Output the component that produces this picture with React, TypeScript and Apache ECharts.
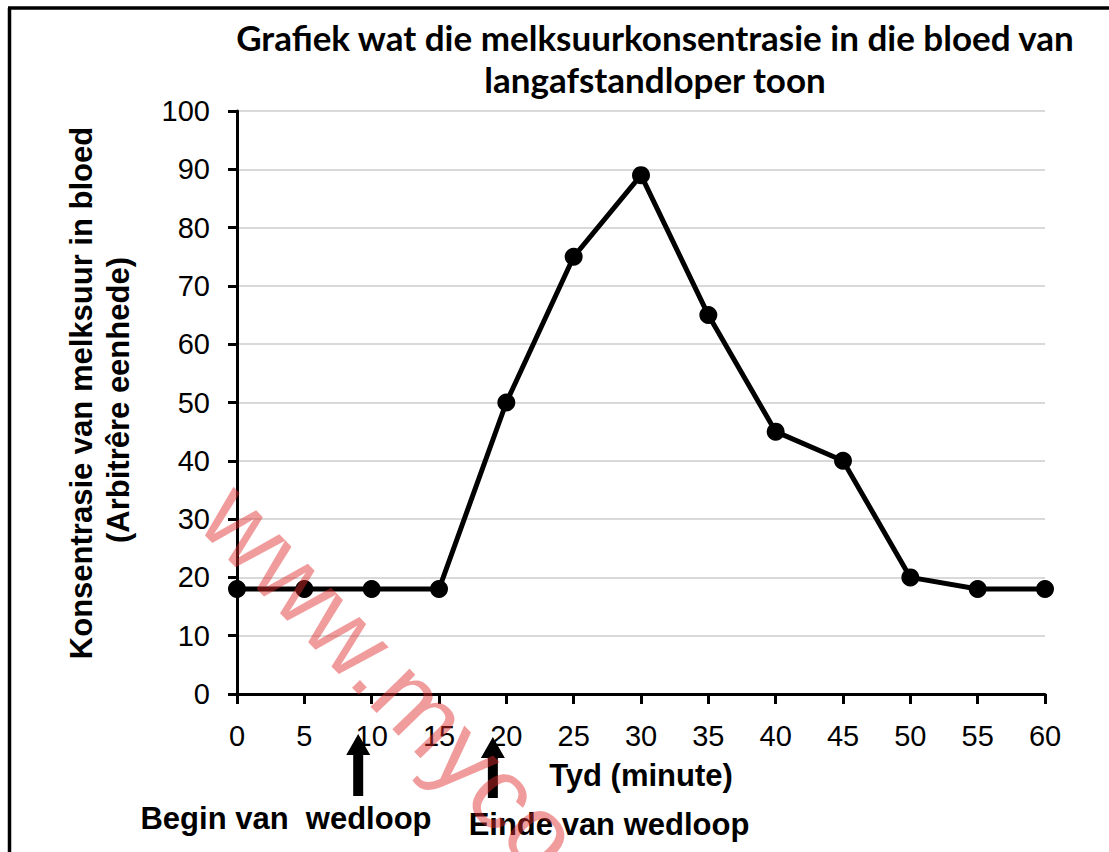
import React, { useEffect, useRef } from "react";
import * as echarts from "echarts";

const minutes = [0, 5, 10, 15, 20, 25, 30, 35, 40, 45, 50, 55, 60];
const lactate = [18, 18, 18, 18, 50, 75, 89, 65, 45, 40, 20, 18, 18];
const titleLines = [
  "Grafiek wat die melksuurkonsentrasie in die bloed van",
  "langafstandloper toon",
];
const yTitleLines = ["Konsentrasie van melksuur in bloed", "(Arbitrêre eenhede)"];
const xTitle = "Tyd (minute)";
const arrowMinutes = [9, 19];
const arrowLabels = ["Begin van  wedloop", "Einde van wedloop"];
const watermark = "www.myco";

const ARIAL = "'Liberation Sans', Arial, sans-serif";

export default function App() {
  const ref = useRef<HTMLDivElement>(null);
  useEffect(() => {
    if (!ref.current) return;
    const chart = echarts.init(ref.current, undefined, { renderer: "svg" });
    const data = minutes.map((m, i) => [m, lactate[i]]);
    chart.setOption({
      animation: false,
      backgroundColor: "#ffffff",
      title: {
        text: titleLines.join("\n"),
        left: 655,
        top: 16,
        padding: 0,
        textAlign: "center",
        textStyle: {
          fontFamily: "Lato, 'Open Sans', sans-serif",
          fontWeight: "bold",
          fontSize: 35,
          lineHeight: 42,
          color: "#000",
        },
      },
      grid: { left: 237, right: 64, top: 111, bottom: 158, containLabel: false },
      xAxis: {
        type: "value",
        min: 0,
        max: 60,
        interval: 5,
        name: xTitle,
        nameLocation: "middle",
        nameGap: 66,
        nameTextStyle: { fontFamily: ARIAL, fontWeight: "bold", fontSize: 31, color: "#000" },
        axisLine: { show: true, onZero: false, lineStyle: { color: "#000", width: 3 } },
        axisTick: { show: true, length: 10, lineStyle: { color: "#000", width: 3 } },
        axisLabel: { fontFamily: ARIAL, fontSize: 29, color: "#000", margin: 27 },
        splitLine: { show: false },
      },
      yAxis: {
        type: "value",
        min: 0,
        max: 100,
        interval: 10,
        axisLine: { show: true, lineStyle: { color: "#000", width: 3 } },
        axisTick: { show: true, length: 9, lineStyle: { color: "#000", width: 3 } },
        axisLabel: { fontFamily: ARIAL, fontSize: 29, color: "#000", margin: 27 },
        splitLine: { show: true, lineStyle: { color: "#d9d9d9", width: 2 } },
      },
      series: [
        {
          type: "line",
          data,
          clip: false,
          symbol: "circle",
          symbolSize: 18,
          itemStyle: { color: "#000" },
          lineStyle: { color: "#000", width: 5 },
          z: 5,
        },
      ],
    });

    const arrowEls: any[] = [];
    arrowMinutes.forEach((m, i) => {
      const px = chart.convertToPixel({ xAxisIndex: 0 }, m) as number;
      const tipY = i === 0 ? 734 : 737;
      const baseY = tipY + 21;
      const botY = i === 0 ? 796 : 798;
      arrowEls.push({
        type: "polygon",
        id: "arrow" + i,
        z: 50,
        shape: {
          points: [
            [px, tipY],
            [px + 12, baseY],
            [px + 5, baseY],
            [px + 5, botY],
            [px - 5, botY],
            [px - 5, baseY],
            [px - 12, baseY],
          ],
        },
        style: { fill: "#000" },
      });
    });

    chart.setOption({
      graphic: {
        elements: [
          {
            type: "line",
            id: "frameTop",
            shape: { x1: 8, y1: 8, x2: 1109, y2: 8 },
            style: { stroke: "#000", lineWidth: 3.5 },
          },
          {
            type: "line",
            id: "frameLeft",
            shape: { x1: 9.5, y1: 8, x2: 9.5, y2: 852 },
            style: { stroke: "#000", lineWidth: 3.5 },
          },
          {
            type: "text",
            id: "ytitle1",
            x: 81,
            y: 393,
            rotation: Math.PI / 2,
            style: {
              text: yTitleLines[0],
              fontFamily: ARIAL,
              fontWeight: "bold",
              fontSize: 31,
              fill: "#000",
              align: "center",
              verticalAlign: "middle",
            },
          },
          {
            type: "text",
            id: "ytitle2",
            x: 118,
            y: 400,
            rotation: Math.PI / 2,
            style: {
              text: yTitleLines[1],
              fontFamily: ARIAL,
              fontWeight: "bold",
              fontSize: 31,
              fill: "#000",
              align: "center",
              verticalAlign: "middle",
            },
          },
          {
            type: "text",
            id: "lbl0",
            x: 286,
            y: 818,
            style: {
              text: arrowLabels[0],
              fontFamily: ARIAL,
              fontWeight: "bold",
              fontSize: 31,
              fill: "#000",
              align: "center",
              verticalAlign: "middle",
            },
          },
          {
            type: "text",
            id: "lbl1",
            x: 609,
            y: 824,
            style: {
              text: arrowLabels[1],
              fontFamily: ARIAL,
              fontWeight: "bold",
              fontSize: 31,
              fill: "#000",
              align: "center",
              verticalAlign: "middle",
            },
          },
          ...arrowEls,
          {
            type: "text",
            id: "watermark",
            x: 220,
            y: 500,
            rotation: (-46 * Math.PI) / 180,
            z: 100,
            style: {
              text: watermark,
              fontFamily: ARIAL,
              fontSize: 103,
              fill: "rgba(225,45,45,0.47)",
              align: "left",
              verticalAlign: "middle",
            },
          },
        ],
      },
    });

    return () => chart.dispose();
  }, []);
  return (
    <div
      ref={ref}
      style={{ position: "fixed", left: 0, top: 0, width: 1109, height: 852, background: "#fff" }}
    />
  );
}
